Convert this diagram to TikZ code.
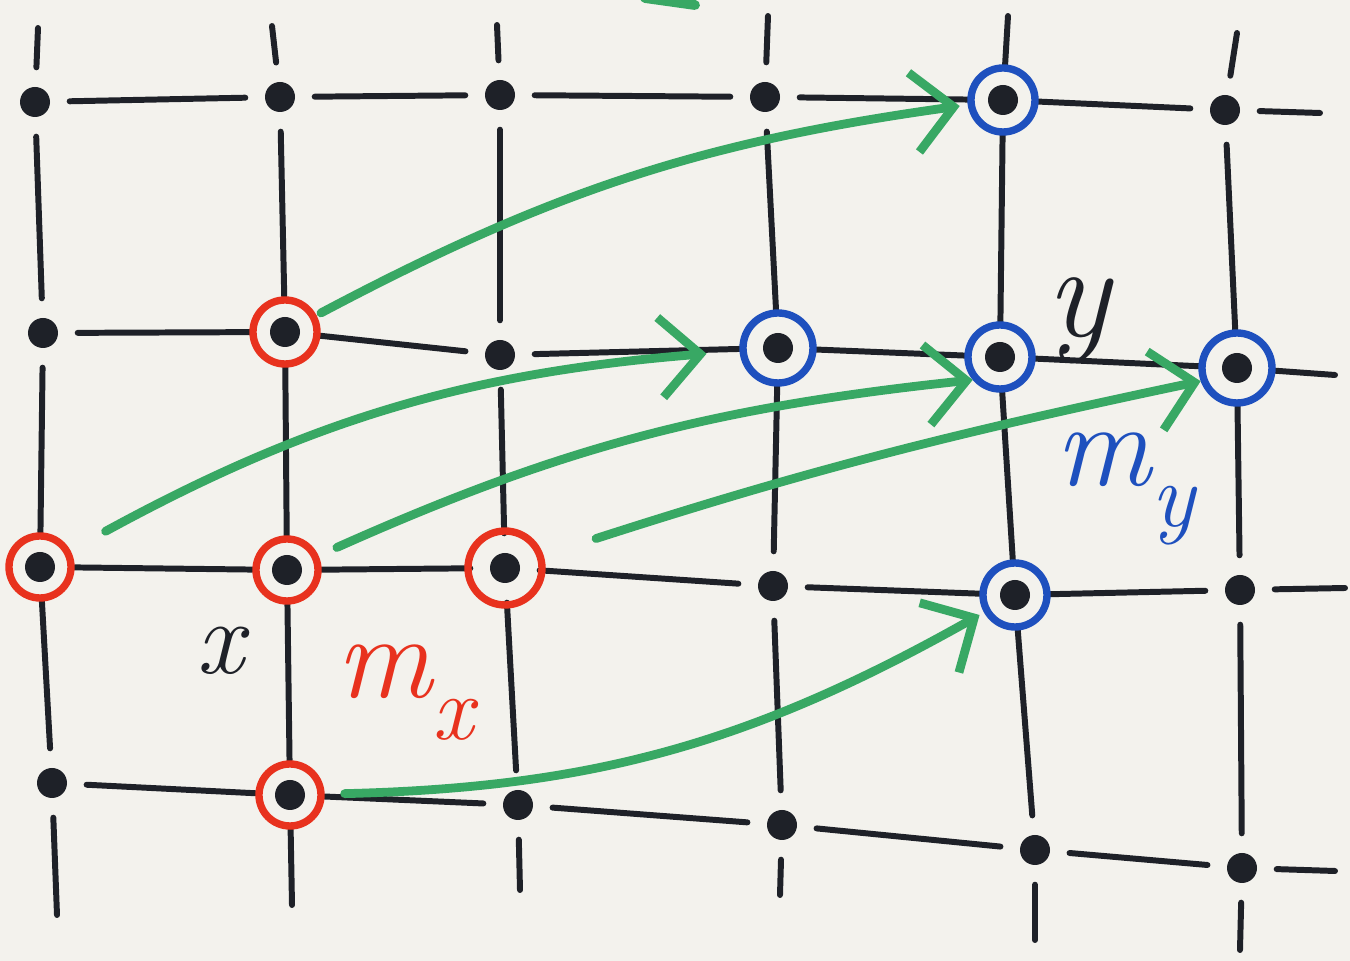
\documentclass[tikz,border=0pt]{standalone}
\usetikzlibrary{arrows.meta}

\definecolor{paper}{RGB}{243,242,237}
\definecolor{ink}{RGB}{30,33,40}
\definecolor{markred}{RGB}{232,50,30}
\definecolor{markblue}{RGB}{30,80,190}
\definecolor{markgreen}{RGB}{56,168,100}

\newcommand{\subidx}[1]{\raisebox{-0.35em}{\fontsize{26}{30}\selectfont #1}}

\begin{document}
\begin{tikzpicture}[
	dot/.style={circle, fill=ink, inner sep=0pt, minimum size=0.3cm},
	gridline/.style={ink, line width=1.7pt, line cap=round, shorten <=0.19cm, shorten >=0.19cm},
	stub/.style={ink, line width=1.7pt, line cap=round, shorten <=0.19cm},
	redring/.style={circle, draw=markred, line width=2.1pt, minimum size=0.62cm, inner sep=0pt},
	bluering/.style={circle, draw=markblue, line width=2.1pt, minimum size=0.64cm, inner sep=0pt},
	flow/.style={markgreen, line width=2.5pt, line cap=round, -{Straight Barb[length=4mm,width=8mm]}},
	]
			% Paper
			\useasboundingbox (0,0) rectangle (13.5,9.61);
			\fill[paper] (0,0) rectangle (13.5,9.61);
			
			% Lattice points
			\foreach \n/\x/\y in {
				11/0.35/8.59, 12/2.80/8.64, 13/5.00/8.66, 14/7.65/8.64, 15/10.03/8.61, 16/12.25/8.51,
				21/0.43/6.28, 22/2.85/6.29, 23/5.00/6.06, 24/7.78/6.13, 25/10.00/6.04, 26/12.37/5.93,
				31/0.40/3.94, 32/2.87/3.91, 33/5.05/3.93, 34/7.73/3.75, 35/10.15/3.66, 36/12.40/3.71,
				41/0.52/1.78, 42/2.90/1.66, 43/5.18/1.56, 44/7.82/1.36, 45/10.35/1.11, 46/12.42/0.93} {
				\node[dot] (d\n) at (\x,\y) {};
			}
			
			% Free ends of the lattice
			\foreach \c/\x/\y in {1/0.38/9.33, 2/2.72/9.35, 3/4.97/9.36, 4/7.68/9.45, 5/10.08/9.45, 6/12.37/9.28} {
				\coordinate (t\c) at (\x,\y);
			}
			\foreach \c/\x/\y in {1/0.57/0.46, 2/2.92/0.56, 3/5.20/0.71, 4/7.80/0.66, 5/10.35/0.21, 6/12.40/0.11} {
				\coordinate (b\c) at (\x,\y);
			}
			\foreach \r/\x/\y in {1/13.20/8.48, 2/13.35/5.86, 3/13.45/3.73, 4/13.35/0.90} {
				\coordinate (e\r) at (\x,\y);
			}
			
			% Lattice bonds
			\foreach \r in {1,...,4} {
				\foreach \c [evaluate=\c as \k using int(\c+1)] in {1,...,5} {
					\draw[gridline] (d\r\c) -- (d\r\k);
				}
				\draw[stub] (d\r6) -- (e\r);
			}
			\foreach \c in {1,...,6} {
				\foreach \r [evaluate=\r as \k using int(\r+1)] in {1,2,3} {
					\draw[gridline] (d\r\c) -- (d\k\c);
				}
				\draw[stub] (d1\c) -- (t\c);
				\draw[stub] (d4\c) -- (b\c);
			}
			
			% Neighbourhood of x
			\node[redring, minimum size=0.64cm] (mx1) at (d22) {};
			\node[redring] (mx2) at (d31) {};
			\node[redring] (mx3) at (d32) {};
			\node[redring, minimum size=0.74cm] (mx4) at (d33) {};
			\node[redring] (mx5) at (d42) {};
			
			% Neighbourhood of y
			\node[bluering] (my1) at (d15) {};
			\node[bluering, minimum size=0.7cm] (my2) at (d24) {};
			\node[bluering] (my3) at (d25) {};
			\node[bluering, minimum size=0.7cm] (my4) at (d26) {};
			\node[bluering] (my5) at (d35) {};
			
			% Translation
			\draw[flow, bend left=10, shorten <=0.05cm, shorten >=0.08cm] (mx1) to (my1);
			\draw[flow, bend left=12, shorten <=0.4cm, shorten >=0.33cm] (mx2) to (my2);
			\draw[flow, bend left=9, shorten <=0.2cm] (mx3) to (my3.220);
			\draw[flow, bend left=3, shorten <=0.55cm] (mx4) to (my4.200);
			\draw[flow, bend right=14, shorten <=0.2cm, shorten >=0.05cm] (mx5) to (my5);
			\draw[markgreen, line width=2.8pt, line cap=round] (6.45,9.63) -- (6.95,9.56);
			
			% Labels
			\node[font=\fontsize{30}{34}\selectfont\itshape, text=ink] (lx) at (2.20,3.10) {x};
			\node[font=\fontsize{38}{44}\selectfont\itshape, text=ink] (ly) at (10.78,6.40) {y};
			\node[font=\fontsize{34}{40}\selectfont\itshape, text=markred] (lmx) at (4.05,2.68) {m\subidx{x}};
			\node[font=\fontsize{34}{40}\selectfont\itshape, text=markblue] (lmy) at (11.25,4.72) {m\subidx{y}};
		\end{tikzpicture}
\end{document}
